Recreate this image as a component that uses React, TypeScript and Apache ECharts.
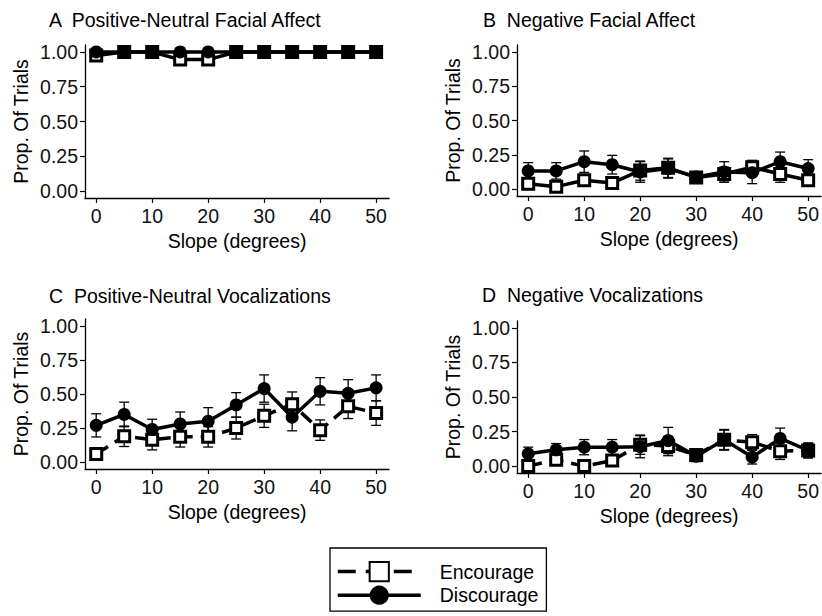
import React, { useEffect, useRef } from "react";
import * as echarts from "echarts";

const slopes = [0, 5, 10, 15, 20, 25, 30, 35, 40, 45, 50];
const xTicks = [0, 10, 20, 30, 40, 50];
const yTicks = [0, 0.25, 0.5, 0.75, 1];

const panelTitles = [
  "A  Positive-Neutral Facial Affect",
  "B  Negative Facial Affect",
  "C  Positive-Neutral Vocalizations",
  "D  Negative Vocalizations",
];
const seriesNames = ["Encourage", "Discourage"];

// Panel A
const encA = [0.975, 1, 1, 0.945, 0.945, 1, 1, 1, 1, 1, 1];
const encASE = [0.015, 0, 0, 0.02, 0.02, 0, 0, 0, 0, 0, 0];
const disA = [1, 1, 1, 1, 1, 1, 1, 1, 1, 1, 1];
const disASE = [0, 0, 0, 0, 0, 0, 0, 0, 0, 0, 0];
// Panel B
const encB = [0.04, 0.018, 0.065, 0.045, 0.135, 0.155, 0.085, 0.11, 0.16, 0.11, 0.065];
const encBSE = [0.03, 0.02, 0.04, 0.03, 0.07, 0.07, 0.03, 0.05, 0.05, 0.06, 0.04];
const disB = [0.133, 0.133, 0.2, 0.178, 0.125, 0.15, 0.089, 0.125, 0.12, 0.2, 0.15];
const disBSE = [0.06, 0.06, 0.078, 0.068, 0.075, 0.07, 0.03, 0.075, 0.08, 0.07, 0.065];
// Panel C
const encC = [0.06, 0.19, 0.165, 0.186, 0.186, 0.25, 0.34, 0.425, 0.235, 0.41, 0.36];
const encCSE = [0.03, 0.075, 0.075, 0.075, 0.075, 0.08, 0.085, 0.09, 0.075, 0.09, 0.09];
const disC = [0.27, 0.35, 0.24, 0.28, 0.3, 0.42, 0.54, 0.33, 0.52, 0.505, 0.545];
const disCSE = [0.085, 0.09, 0.075, 0.088, 0.1, 0.09, 0.1, 0.1, 0.1, 0.1, 0.095];
// Panel D
const encD = [0, 0.045, 0, 0.04, 0.155, 0.145, 0.08, 0.19, 0.173, 0.108, 0.113];
const encDSE = [0.02, 0.02, 0.02, 0.02, 0.07, 0.07, 0.04, 0.07, 0.055, 0.06, 0.05];
const disD = [0.089, 0.118, 0.137, 0.137, 0.14, 0.185, 0.072, 0.19, 0.065, 0.2, 0.113];
const disDSE = [0.048, 0.045, 0.055, 0.055, 0.08, 0.095, 0.04, 0.075, 0.05, 0.075, 0.055];

const panels = [
  { enc: encA, encSE: encASE, dis: disA, disSE: disASE, dashed: false },
  { enc: encB, encSE: encBSE, dis: disB, disSE: disBSE, dashed: false },
  { enc: encC, encSE: encCSE, dis: disC, disSE: disCSE, dashed: true },
  { enc: encD, encSE: encDSE, dis: disD, disSE: disDSE, dashed: true },
];

const FONT = "'Liberation Sans', Arial, Helvetica, sans-serif";
const FS = 19.5;
const INK = "#111";
const DASH = [14, 8];
const LEGEND_DASH = [18, 10];

const grids = [
  { left: 85, top: 45, width: 304, height: 153 },
  { left: 517, top: 45, width: 306, height: 151 },
  { left: 85, top: 319, width: 304, height: 150 },
  { left: 517, top: 321, width: 306, height: 152 },
];
const titlePos = [
  { left: 49, top: 10 },
  { left: 483, top: 10 },
  { left: 49, top: 286 },
  { left: 482, top: 285 },
];

function errorBarSeries(idx: number, vals: number[], se: number[], z: number) {
  return {
    type: "custom",
    xAxisIndex: idx,
    yAxisIndex: idx,
    z,
    silent: true,
    data: slopes.map((s, i) => [s, vals[i] - se[i], vals[i] + se[i]]),
    renderItem: (params: any, api: any) => {
      const x = api.value(0);
      const lo = api.coord([x, api.value(1)]);
      const hi = api.coord([x, api.value(2)]);
      const hw = 5;
      const st = { stroke: "#000", lineWidth: 1.3 };
      return {
        type: "group",
        children: [
          { type: "line", shape: { x1: lo[0], y1: lo[1], x2: hi[0], y2: hi[1] }, style: st },
          { type: "line", shape: { x1: hi[0] - hw, y1: hi[1], x2: hi[0] + hw, y2: hi[1] }, style: st },
          { type: "line", shape: { x1: lo[0] - hw, y1: lo[1], x2: lo[0] + hw, y2: lo[1] }, style: st },
        ],
      };
    },
  };
}

export default function App() {
  const ref = useRef<HTMLDivElement>(null);
  useEffect(() => {
    if (!ref.current) return;
    const chart = echarts.init(ref.current, null, { renderer: "svg" });
    const series: any[] = [];
    panels.forEach((p, idx) => {
      series.push(errorBarSeries(idx, p.dis, p.disSE, 1));
      series.push(errorBarSeries(idx, p.enc, p.encSE, 1));
      series.push({
        type: "line",
        name: seriesNames[0],
        xAxisIndex: idx,
        yAxisIndex: idx,
        z: 3,
        data: slopes.map((s, i) => [s, p.enc[i]]),
        symbol: "rect",
        symbolSize: 11,
        showAllSymbol: true,
        lineStyle: { color: "#000", width: 3.5, type: p.dashed ? DASH : "solid" },
        itemStyle: { color: "#fff", borderColor: "#000", borderWidth: 3 },
      });
      series.push({
        type: "line",
        name: seriesNames[1],
        xAxisIndex: idx,
        yAxisIndex: idx,
        z: 4,
        data: slopes.map((s, i) => [s, p.dis[i]]),
        symbol: "circle",
        symbolSize: 13,
        showAllSymbol: true,
        lineStyle: { color: "#000", width: 3.5 },
        itemStyle: { color: "#000", borderColor: "#000", borderWidth: 0 },
      });
    });

    const option: any = {
      animation: false,
      backgroundColor: "#fff",
      textStyle: { fontFamily: FONT },
      title: panelTitles.map((t, i) => ({
        text: t,
        left: titlePos[i].left,
        top: titlePos[i].top,
        padding: 0,
        textStyle: { fontFamily: FONT, fontSize: FS, fontWeight: "normal", color: "#000" },
      })),
      grid: grids.map((g) => ({ ...g, containLabel: false })),
      xAxis: grids.map((_, i) => ({
        type: "value",
        gridIndex: i,
        min: -2,
        max: 52.3,
        name: "Slope (degrees)",
        nameLocation: "middle",
        nameGap: 33,
        nameTextStyle: { fontFamily: FONT, fontSize: FS, color: "#000" },
        splitLine: { show: false },
        axisLine: { show: true, onZero: false, lineStyle: { color: "#000", width: 1.3 } },
        axisTick: { show: true, length: 5, customValues: xTicks, lineStyle: { color: "#000", width: 1.2 } },
        axisLabel: { customValues: xTicks, margin: 8, fontFamily: FONT, fontSize: FS, color: INK },
      })),
      yAxis: grids.map((_, i) => ({
        type: "value",
        gridIndex: i,
        min: -0.05,
        max: 1.05,
        name: "Prop. Of Trials",
        nameLocation: "middle",
        nameGap: 54,
        nameRotate: 90,
        nameTextStyle: { fontFamily: FONT, fontSize: FS, color: "#000" },
        splitLine: { show: false },
        axisLine: { show: true, onZero: false, lineStyle: { color: "#000", width: 1.3 } },
        axisTick: { show: true, length: 5, customValues: yTicks, lineStyle: { color: "#000", width: 1.2 } },
        axisLabel: {
          customValues: yTicks,
          margin: 7,
          fontFamily: FONT,
          fontSize: FS,
          color: INK,
          formatter: (v: number) => v.toFixed(2),
        },
      })),
      legend: {
        orient: "vertical",
        left: 330,
        top: 548,
        height: 51,
        padding: [13, 8, 6, 6],
        borderColor: "#000",
        borderWidth: 1.3,
        itemWidth: 83,
        itemHeight: 24,
        itemGap: 3,
        textStyle: { fontFamily: FONT, fontSize: FS, color: "#000", padding: [0, 0, 0, 14] },
        data: [
          { name: "Encourage", lineStyle: { type: LEGEND_DASH, width: 3.5, color: "#000" } },
          { name: "Discourage", lineStyle: { width: 3.5, color: "#000" } },
        ],
      },
      series,
    };
    chart.setOption(option);
    return () => chart.dispose();
  }, []);
  return (
    <div
      ref={ref}
      style={{ position: "fixed", left: 0, top: 0, width: 822, height: 616, background: "#fff" }}
    />
  );
}
